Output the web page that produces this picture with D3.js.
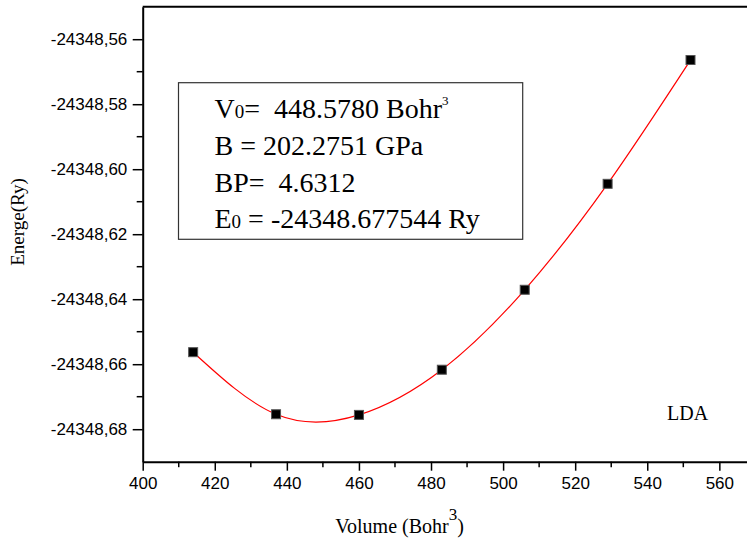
<!DOCTYPE html>
<html>
<head>
<meta charset="utf-8">
<script src="https://cdn.jsdelivr.net/npm/d3@7"></script>
<style>
  html, body { margin: 0; padding: 0; background: #fff; }
  svg { display: block; }
  text { white-space: pre; }
</style>
</head>
<body>
<svg id="chart" width="747" height="539"></svg>
<script>
// ---- data ----
const volumes = [414, 437, 460, 483, 506, 529, 552];
const energies = [-24348.6563, -24348.6754, -24348.6756, -24348.6617, -24348.6371, -24348.6045, -24348.5664];
const xTickValues = [400, 420, 440, 460, 480, 500, 520, 540, 560];
const xMinorTicks = [410, 430, 450, 470, 490, 510, 530, 550, 570];
const yTickValues = [-24348.56, -24348.58, -24348.60, -24348.62, -24348.64, -24348.66, -24348.68];
const yMinorTicks = [-24348.57, -24348.59, -24348.61, -24348.63, -24348.65, -24348.67];
const fitLines = [
  { main: "V", sub: "0", rest: "=  448.5780 Bohr", sup: "3" },
  { main: "B = 202.2751 GPa" },
  { main: "BP=  4.6312" },
  { main: "E", sub: "0", rest: " = -24348.677544 Ry" }
];
const methodLabel = "LDA";
const xTitle = "Volume (Bohr";
const yTitle = "Energe(Ry)";

// ---- layout ----
const svg = d3.select("#chart");
const plotLeft = 142.7, plotBottom = 461.7, plotTop = 6.7;
const x = d3.scaleLinear().domain([400, 570]).range([plotLeft, plotLeft + 170 * 3.604]);
const y = d3.scaleLinear().domain([-24348.69, -24348.55]).range([plotBottom, plotTop]);
const fmtY = v => d3.format(".2f")(v).replace(".", ",").replace("\u2212", "-");

const sans = "'Liberation Sans', Arial, sans-serif";
const serif = "'Liberation Serif', 'Times New Roman', serif";

// top frame line
svg.append("line").attr("x1", plotLeft).attr("x2", 747).attr("y1", plotTop).attr("y2", plotTop)
  .attr("stroke", "#000").attr("stroke-width", 2);

// x axis
const gx = svg.append("g").attr("transform", `translate(0,${plotBottom})`)
  .call(d3.axisBottom(x).tickValues(xTickValues).tickSize(9).tickSizeOuter(0).tickPadding(6.6));
gx.append("g").selectAll("line").data(xMinorTicks).join("line")
  .attr("x1", d => x(d)).attr("x2", d => x(d)).attr("y1", 0).attr("y2", 5.5)
  .attr("stroke", "#000").attr("stroke-width", 1.5);

// y axis
const gy = svg.append("g").attr("transform", `translate(${plotLeft},0)`)
  .call(d3.axisLeft(y).tickValues(yTickValues).tickFormat(fmtY).tickSize(10).tickSizeOuter(0).tickPadding(5.4));
gy.append("g").selectAll("line").data(yMinorTicks).join("line")
  .attr("y1", d => y(d)).attr("y2", d => y(d)).attr("x1", 0).attr("x2", -6)
  .attr("stroke", "#000").attr("stroke-width", 1.5);

[gx, gy].forEach(g => {
  g.select(".domain").attr("stroke", "#000").attr("stroke-width", 2);
  g.selectAll(".tick line").attr("stroke", "#000").attr("stroke-width", 1.5);
  g.selectAll(".tick text").attr("font-family", sans).attr("font-size", 17).attr("fill", "#000");
});

// fit curve
const line = d3.line().x((d, i) => x(volumes[i])).y(d => y(d)).curve(d3.curveNatural);
svg.append("path").datum(energies).attr("d", line)
  .attr("fill", "none").attr("stroke", "#ff0000").attr("stroke-width", 1.2);

// data markers
svg.append("g").selectAll("rect").data(energies).join("rect")
  .attr("x", (d, i) => x(volumes[i]) - 4.5).attr("y", d => y(d) - 4.5)
  .attr("width", 9).attr("height", 9)
  .attr("fill", "#000").attr("stroke", "#555").attr("stroke-width", 1);

// parameter box
svg.append("rect").attr("x", 178.5).attr("y", 82.7).attr("width", 344.2).attr("height", 156.6)
  .attr("fill", "#fff").attr("stroke", "#333").attr("stroke-width", 1.2);
fitLines.forEach((l, i) => {
  const t = svg.append("text").attr("x", 214.5).attr("y", 118.3 + i * 36.7)
    .attr("font-family", serif).attr("font-size", 28).attr("fill", "#000");
  t.append("tspan").text(l.main);
  if (l.sub) t.append("tspan").attr("font-size", 19).text(l.sub);
  if (l.rest) t.append("tspan").text(l.rest);
  if (l.sup) t.append("tspan").attr("font-size", 13).attr("dy", -13).text(l.sup);
});

// method label
svg.append("text").attr("x", 667).attr("y", 420).attr("font-family", serif).attr("font-size", 20)
  .attr("fill", "#000").text(methodLabel);

// axis titles
const xt = svg.append("text").attr("x", 399.5).attr("y", 533.3).attr("text-anchor", "middle")
  .attr("font-family", serif).attr("font-size", 20).attr("fill", "#000");
xt.append("tspan").text(xTitle);
xt.append("tspan").attr("font-size", 17).attr("dy", -13).text("3");
xt.append("tspan").attr("dy", 13).text(")");

svg.append("text").attr("transform", "translate(24,222) rotate(-90)").attr("text-anchor", "middle")
  .attr("font-family", serif).attr("font-size", 19).attr("fill", "#000").text(yTitle);
</script>
</body>
</html>
